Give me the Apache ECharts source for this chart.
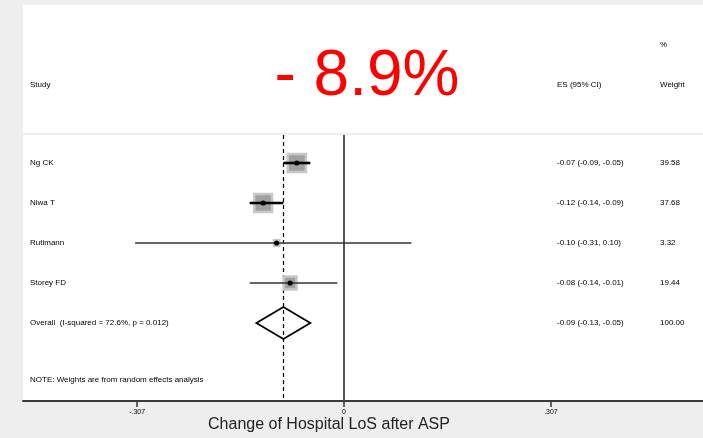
<!DOCTYPE html>
<html><head><meta charset="utf-8">
<script src="https://cdn.jsdelivr.net/npm/echarts@6/dist/echarts.min.js"></script>
<style>html,body{margin:0;padding:0;background:#eeeeee}#c{width:703px;height:438px}</style>
</head><body><div id="c"></div>
<script>
// ---- data ----
const studies = ['Ng CK', 'Niwa T', 'Rutimann', 'Storey FD'];
const es = [-0.07, -0.12, -0.10, -0.08];
const ciLow = [-0.09, -0.14, -0.31, -0.14];
const ciHigh = [-0.05, -0.09, 0.10, -0.01];
const weights = [39.58, 37.68, 3.32, 19.44];
const overallLabel = 'Overall  (I-squared = 72.6%, p = 0.012)';
const overallEs = -0.09, overallLow = -0.13, overallHigh = -0.05, overallWeight = 100.00;
const tickValues = [-0.307, 0, 0.307];
const tickLabels = ['-.307', '0', '.307'];
const noteText = 'NOTE: Weights are from random effects analysis';
const bigLabel = '- 8.9%';
const xTitle = 'Change of Hospital LoS after ASP';

// ---- styles ----
const FONT = 'Liberation Sans, Arial, sans-serif';
const LABEL_X = 30, ES_X = 557, W_X = 660, SMALL = 8;
const fmt = v => v.toFixed(2);
const esText = (e, l, h) => fmt(e) + ' (' + fmt(l) + ', ' + fmt(h) + ')';

const chart = echarts.init(document.getElementById('c'), null, {renderer: 'canvas'});

const studyData = studies.map((s, i) => [es[i], i, ciLow[i], ciHigh[i], weights[i]]);
const overallIdx = studies.length;
const noteIdx = overallIdx + 1.42;

function txt(x, y, t) {
  return {type: 'text', x: x, y: y, style: {text: t, fill: '#000', font: SMALL + 'px ' + FONT, textVerticalAlign: 'middle', textAlign: 'left'}};
}

chart.setOption({
  animation: false,
  backgroundColor: '#eeeeee',
  grid: {left: 23, right: 0, top: 135, bottom: 37, show: true, backgroundColor: '#ffffff', borderWidth: 0},
  xAxis: {
    type: 'value', min: -0.4763, max: 0.5326,
    splitLine: {show: false},
    axisLine: {show: true, onZero: false, lineStyle: {color: '#3a3a3a', width: 2}},
    axisTick: {show: true, customValues: tickValues, length: 6, lineStyle: {color: '#333', width: 1.5}},
    axisLabel: {show: true, customValues: tickValues, fontSize: 7, color: '#000', fontFamily: FONT, margin: 8,
      formatter: v => { const k = tickValues.findIndex(t => Math.abs(t - v) < 1e-9); return k >= 0 ? tickLabels[k] : ''; }}
  },
  yAxis: {type: 'value', inverse: true, min: -0.7, max: 5.95, show: false},
  graphic: [
    {type: 'rect', shape: {x: 23, y: 5, width: 680, height: 128}, style: {fill: '#ffffff'}, z: -10},
    {type: 'text', x: 367, y: 77, style: {text: bigLabel, fill: '#ff0000', font: '64px ' + FONT, textAlign: 'center', textVerticalAlign: 'middle'}},
    txt(LABEL_X, 85, 'Study'),
    txt(ES_X, 85, 'ES (95% CI)'),
    txt(W_X, 45, '%'),
    txt(W_X, 85, 'Weight'),
    {type: 'text', x: 329, y: 425, style: {text: xTitle, fill: '#222', font: '16px ' + FONT, textAlign: 'center', textVerticalAlign: 'middle'}}
  ],
  series: [
    {
      type: 'custom', z: 5,
      data: studyData,
      renderItem: function (params, api) {
        const e = api.value(0), i = api.value(1), lo = api.value(2), hi = api.value(3), w = api.value(4);
        const p = api.coord([e, i]), pl = api.coord([lo, i]), ph = api.coord([hi, i]);
        const side = 2.9 * Math.sqrt(w);
        const big = w > 30;
        const children = [
          {type: 'rect', shape: {x: p[0] - side / 2, y: p[1] - side / 2, width: side, height: side}, style: {fill: '#a0a0a0', stroke: '#c8c8c8', lineWidth: 2.5}},
          {type: 'line', shape: {x1: pl[0], y1: p[1], x2: ph[0], y2: p[1]}, style: {stroke: big ? '#000' : '#333', lineWidth: big ? 2.6 : 1.4}},
          {type: 'circle', shape: {cx: p[0], cy: p[1], r: 2.6}, style: {fill: '#000'}},
          {type: 'text', x: LABEL_X, y: p[1], style: {text: studies[params.dataIndex], fill: '#000', font: SMALL + 'px ' + FONT, textVerticalAlign: 'middle'}},
          {type: 'text', x: ES_X, y: p[1], style: {text: esText(e, lo, hi), fill: '#000', font: SMALL + 'px ' + FONT, textVerticalAlign: 'middle'}},
          {type: 'text', x: W_X, y: p[1], style: {text: fmt(w), fill: '#000', font: SMALL + 'px ' + FONT, textVerticalAlign: 'middle'}}
        ];
        return {type: 'group', children: children};
      },
      markLine: {
        silent: true, symbol: 'none', label: {show: false},
        data: [
          {xAxis: 0, lineStyle: {color: '#555', width: 2, type: 'solid'}},
          {xAxis: overallEs, lineStyle: {color: '#000', width: 1.2, type: [4, 3]}}
        ]
      }
    },
    {
      type: 'custom', z: 6,
      data: [[overallEs, overallIdx, overallLow, overallHigh, overallWeight]],
      renderItem: function (params, api) {
        const e = api.value(0), i = api.value(1), lo = api.value(2), hi = api.value(3), w = api.value(4);
        const p = api.coord([e, i]), pl = api.coord([lo, i]), ph = api.coord([hi, i]);
        const hh = 16;
        return {type: 'group', children: [
          {type: 'polygon', shape: {points: [[pl[0], p[1]], [p[0], p[1] - hh], [ph[0], p[1]], [p[0], p[1] + hh]]}, style: {fill: 'rgba(255,255,255,0)', stroke: '#000', lineWidth: 1.8}},
          {type: 'text', x: LABEL_X, y: p[1], style: {text: overallLabel, fill: '#000', font: SMALL + 'px ' + FONT, textVerticalAlign: 'middle'}},
          {type: 'text', x: ES_X, y: p[1], style: {text: esText(e, lo, hi), fill: '#000', font: SMALL + 'px ' + FONT, textVerticalAlign: 'middle'}},
          {type: 'text', x: W_X, y: p[1], style: {text: fmt(w), fill: '#000', font: SMALL + 'px ' + FONT, textVerticalAlign: 'middle'}}
        ]};
      }
    },
    {
      type: 'custom', z: 6,
      data: [[0, noteIdx]],
      renderItem: function (params, api) {
        const p = api.coord([api.value(0), api.value(1)]);
        return {type: 'text', x: LABEL_X, y: p[1], style: {text: noteText, fill: '#000', font: SMALL + 'px ' + FONT, textVerticalAlign: 'middle'}};
      }
    }
  ]
});
</script></body></html>
